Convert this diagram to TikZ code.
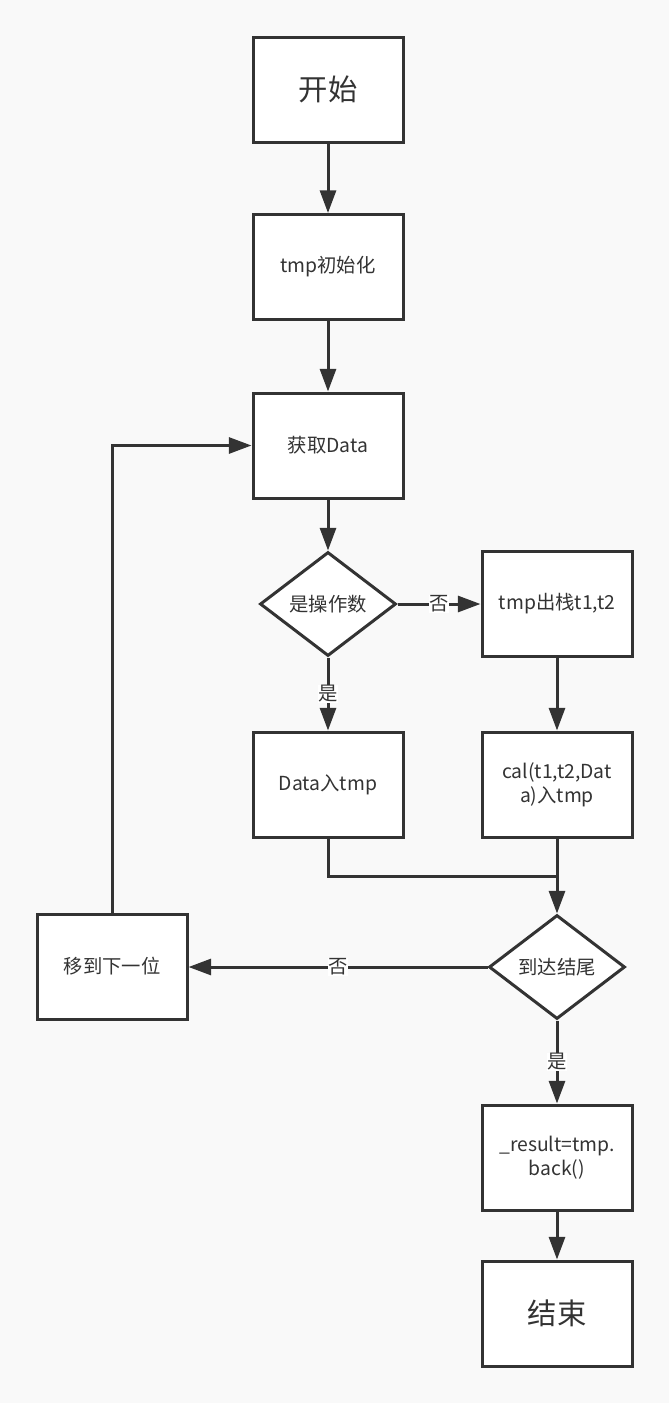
\documentclass[tikz,border=0pt]{standalone}
\usepackage{fontspec}
\setmainfont{Noto Sans CJK SC}
\usetikzlibrary{shapes.geometric,arrows.meta}
\definecolor{ink}{HTML}{333333}
\definecolor{paper}{HTML}{F9F9F9}

\begin{document}
\begin{tikzpicture}[x=0.75pt,y=-0.75pt,
    box/.style={draw=ink,fill=white,line width=2.25pt,minimum width=112.5pt,
      minimum height=78.75pt,inner sep=2pt,align=center,text=ink,
      font=\fontsize{14.5pt}{18pt}\selectfont},
    bigbox/.style={box,font=\fontsize{22pt}{26pt}\selectfont},
    decide/.style={draw=ink,fill=white,line width=2.25pt,diamond,
      minimum width=102pt,minimum height=78pt,inner sep=0pt,text=ink,
      font=\fontsize{14.5pt}{18pt}\selectfont},
    flow/.style={draw=ink,line width=2.25pt,-{Triangle[length=17pt,width=12pt]}},
    lbl/.style={fill=white,text=ink,inner sep=0.5pt,
      font=\fontsize{14.5pt}{18pt}\selectfont}]
    \fill[paper] (0,0) rectangle (669,1403);

    \node[bigbox] (start) at (328,89.5) {开始};
    \node[box] (init) at (328,267) {tmp初始化};
    \node[box] (getdata) at (328,445.5) {获取Data};
    \node[decide] (isop) at (328,604) {是操作数};
    \node[box] (pop) at (557,603.5) {tmp出栈t1,t2};
    \node[box] (push) at (328,784.5) {Data入tmp};
    \node[box] (calc) at (557,784.5) {cal(t1,t2,Dat\\a)入tmp};
    \node[decide] (isend) at (557,967) {到达结尾};
    \node[box] (next) at (112,966.5) {移到下一位};
    \node[box] (result) at (557,1157.5) {\_result=tmp.\\back()};
    \node[bigbox] (stop) at (557,1313.5) {结束};

    \draw[flow] (start) -- (init);
    \draw[flow] (init) -- (getdata);
    \draw[flow] (getdata) -- (isop);
    \draw[flow] (isop.east) -- node[lbl] {否} (pop.west |- isop.east);
    \draw[flow] (isop) -- node[lbl] {是} (push);
    \draw[flow] (pop) -- (calc);
    \draw[draw=ink,line width=2.25pt] (push.south) |- (557,876);
    \draw[flow] (calc) -- (isend);
    \draw[flow] (isend.west) -- node[lbl] {否} (next.east |- isend.west);
    \draw[flow] (isend) -- node[lbl] {是} (result);
    \draw[flow] (result) -- (stop);
    \draw[flow] (next.north) |- (getdata.west);
  \end{tikzpicture}
\end{document}
